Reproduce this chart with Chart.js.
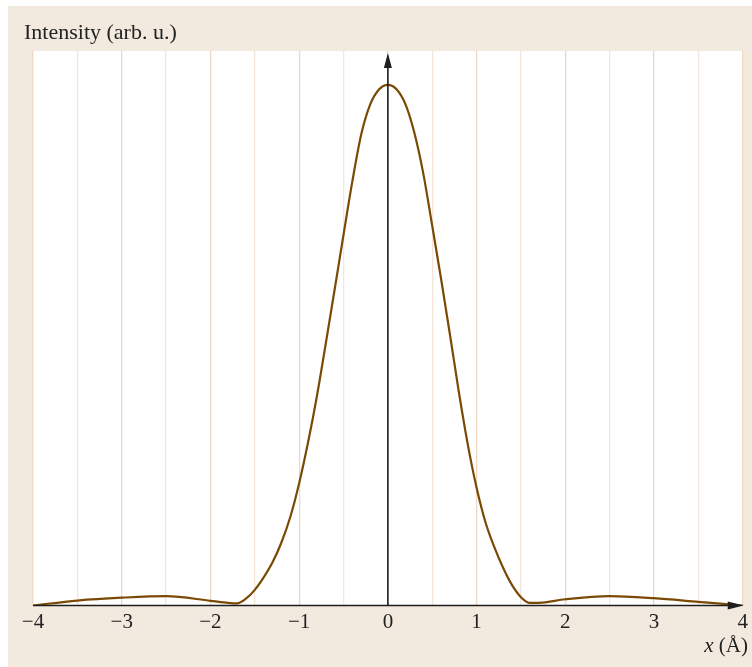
<!DOCTYPE html>
<html>
<head>
<meta charset="utf-8">
<script src="https://cdn.jsdelivr.net/npm/chart.js@4.4.0/dist/chart.umd.min.js"></script>
<style>
  html, body { margin: 0; padding: 0; background: #ffffff; }
  #wrap { position: relative; width: 752px; height: 667px; }
</style>
</head>
<body>
<div id="wrap"><canvas id="c" width="752" height="667"></canvas></div>
<script>
// Intensity profile across the atom column, x in ångström
const positions = [-4, -3.5, -3.0, -2.5, -2.0, -1.8, -1.7, -1.6, -1.5, -1.4, -1.3, -1.2, -1.1, -1.0,
  -0.9, -0.8, -0.7, -0.6, -0.5, -0.4, -0.3, -0.2, -0.1, 0,
  0.1, 0.2, 0.3, 0.4, 0.5, 0.6, 0.7, 0.8, 0.9, 1.0, 1.1, 1.2, 1.3, 1.4, 1.5, 1.6, 1.7,
  2.0, 2.5, 3.0, 3.5, 4.0];
const intensity = [0, 0.0095, 0.015, 0.018, 0.009, 0.005, 0.004, 0.013, 0.030, 0.054, 0.083, 0.121, 0.170, 0.235,
  0.313, 0.402, 0.503, 0.607, 0.712, 0.815, 0.905, 0.962, 0.991, 1,
  0.991, 0.962, 0.907, 0.829, 0.729, 0.627, 0.520, 0.410, 0.310, 0.226, 0.160, 0.112, 0.072, 0.039, 0.016, 0.005, 0.005,
  0.012, 0.018, 0.014, 0.007, 0];
const xTickValues = [-4, -3, -2, -1, 0, 1, 2, 3, 4];
const yAxisTitle = 'Intensity (arb. u.)';
const xAxisVar = 'x';
const xAxisUnit = ' (Å)';

const SERIF = '"Liberation Serif", "DejaVu Serif", serif';
const BEIGE = '#f2eadf';

const frame = {
  id: 'frame',
  beforeDraw(chart) {
    const { ctx, chartArea: a } = chart;
    ctx.save();
    ctx.fillStyle = '#ffffff';
    ctx.fillRect(0, 0, chart.width, chart.height);
    ctx.fillStyle = BEIGE;
    ctx.fillRect(8, 6, chart.width - 8, chart.height - 6);
    ctx.fillStyle = '#ffffff';
    ctx.fillRect(a.left, a.top, a.right - a.left, a.bottom - a.top);
    ctx.restore();
  },
  afterDatasetsDraw(chart) {
    const { ctx, chartArea: a, scales: { x, y } } = chart;
    const x0 = x.getPixelForValue(0);
    const y0 = y.getPixelForValue(0);
    ctx.save();
    ctx.strokeStyle = '#1e1e1e';
    ctx.fillStyle = '#1e1e1e';
    ctx.lineWidth = 1.6;
    // horizontal axis
    ctx.beginPath();
    ctx.moveTo(a.left, y0);
    ctx.lineTo(a.right - 10, y0);
    ctx.stroke();
    ctx.beginPath();
    ctx.moveTo(a.right + 1, y0);
    ctx.lineTo(a.right - 15, y0 - 4);
    ctx.lineTo(a.right - 15, y0 + 4);
    ctx.closePath();
    ctx.fill();
    // vertical axis
    const tipY = a.top + 2;
    ctx.beginPath();
    ctx.moveTo(x0, y0);
    ctx.lineTo(x0, tipY + 10);
    ctx.stroke();
    ctx.beginPath();
    ctx.moveTo(x0, tipY);
    ctx.lineTo(x0 - 4, tipY + 15);
    ctx.lineTo(x0 + 4, tipY + 15);
    ctx.closePath();
    ctx.fill();
    // axis titles
    ctx.fillStyle = '#222222';
    ctx.textBaseline = 'alphabetic';
    ctx.textAlign = 'left';
    ctx.font = '22px ' + SERIF;
    ctx.fillText(yAxisTitle, 24, 39);
    ctx.textAlign = 'right';
    ctx.font = '21px ' + SERIF;
    const unitW = ctx.measureText(xAxisUnit).width;
    ctx.fillText(xAxisUnit, 748, 652);
    ctx.font = 'italic 21px ' + SERIF;
    ctx.fillText(xAxisVar, 748 - unitW, 652);
    ctx.restore();
  }
};

new Chart(document.getElementById('c'), {
  type: 'line',
  data: {
    datasets: [{
      data: positions.map((p, i) => ({ x: p, y: intensity[i] })),
      borderColor: '#7a4a05',
      borderWidth: 2.2,
      pointRadius: 0,
      fill: false,
      cubicInterpolationMode: 'monotone'
    }]
  },
  options: {
    responsive: false,
    animation: false,
    devicePixelRatio: 1,
    layout: { padding: { left: 33, top: 51, right: 4, bottom: 0 } },
    plugins: { legend: { display: false }, tooltip: { enabled: false } },
    scales: {
      x: {
        type: 'linear',
        min: -4,
        max: 4,
        afterFit(scale) { scale.height = 61.5; },
        afterBuildTicks(scale) {
          const t = [];
          for (let v = -4; v <= 4.001; v += 0.5) t.push({ value: Math.round(v * 2) / 2 });
          scale.ticks = t;
        },
        border: { display: false },
        grid: {
          drawTicks: false,
          color: ctx => Number.isInteger(ctx.tick.value) ? '#ebd9c4' : '#f2e7da',
          lineWidth: 1.3
        },
        ticks: {
          autoSkip: false,
          maxRotation: 0,
          padding: 4,
          color: '#222222',
          font: { family: SERIF, size: 21 },
          callback: v => xTickValues.includes(v) ? String(v).replace('-', '\u2212') : ''
        }
      },
      y: {
        display: false,
        min: 0,
        max: 1.065
      }
    }
  },
  plugins: [frame]
});
</script>
</body>
</html>
